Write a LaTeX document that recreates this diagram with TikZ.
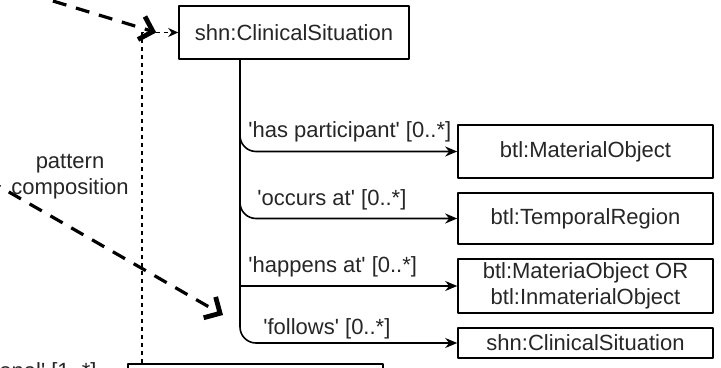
\documentclass[tikz,border=0pt]{standalone}
\usepackage{fontspec}
\setmainfont{Liberation Sans}
\usetikzlibrary{arrows.meta}
\newcommand{\q}{\textquotesingle}
\begin{document}
\begin{tikzpicture}[x=0.5pt, y=-0.5pt, font=\fontsize{11}{13}\selectfont, line join=round, text=black!85,
  >={Stealth[length=6pt,width=5pt]},
  box/.style={draw, line width=0.8pt, minimum width=127.5pt, inner sep=0pt, align=center},
  lbl/.style={anchor=west, inner sep=0pt},
  link/.style={->, line width=0.8pt},
  patt/.style={line width=1.6pt, dash pattern=on 7pt off 5pt, -{Straight Barb[length=6pt,width=12pt,line width=2.4pt]}}]
\useasboundingbox (0,0) rectangle (721,368);
% Vẽ các hộp
\node[box, minimum width=115pt, minimum height=26.5pt] (top) at (294,32.5) {shn:ClinicalSituation};
\foreach \nm/\y/\h/\txt in {mat/151.5/26.5pt/btl:MaterialObject, tem/218.5/25.5pt/btl:TemporalRegion,
  orb/286/27pt/{btl:MateriaObject OR\\btl:InmaterialObject}, nxt/343/15pt/shn:ClinicalSituation}
\node[box, minimum height=\h] (\nm) at (585.5,\y) {\txt};
\node[box, minimum height=30pt] (bot) at (255.5,394) {};
% Các mũi tên quan hệ
\coordinate (trunk) at ([xshift=-27pt]top.south);
\foreach \nm/\rc in {mat/8pt, tem/8pt, orb/0pt, nxt/8pt}
\draw[link, rounded corners=\rc] (trunk) |- (\nm.west);
\foreach \nm/\x/\y/\txt in {mat/248/132/\q has participant\q{} [0..*], tem/257/200/\q occurs at\q{} [0..*],
  orb/248/267/\q happens at\q{} [0..*], nxt/263/329/\q follows\q{} [0..*]}
\node[lbl] (l\nm) at (\x,\y) {\txt};
% Đường chấm nối hộp dưới
\coordinate (dk) at ([xshift=-18pt]top.west);
\draw[line width=0.75pt, dash pattern=on 2pt off 2pt, -{Stealth[length=5pt,width=4.5pt]}] (bot.north -| dk) -- (dk) -- (top.west);
\node[anchor=north east, inner sep=0pt] (opt) at (97,362) {tional\q{} [1..*]};
% Ghép mẫu
\node[align=center] (pc) at (70,177) {pattern\\composition};
\coordinate (pa1) at (30,-6);
\coordinate (pa1e) at ([xshift=-11pt]top.west);
\coordinate (pa2) at (-12,180);
\coordinate (pa2e) at (223,315);
\draw[patt] (pa1) -- (pa1e);
\draw[patt] (pa2) -- (pa2e);
\end{tikzpicture}
\end{document}
